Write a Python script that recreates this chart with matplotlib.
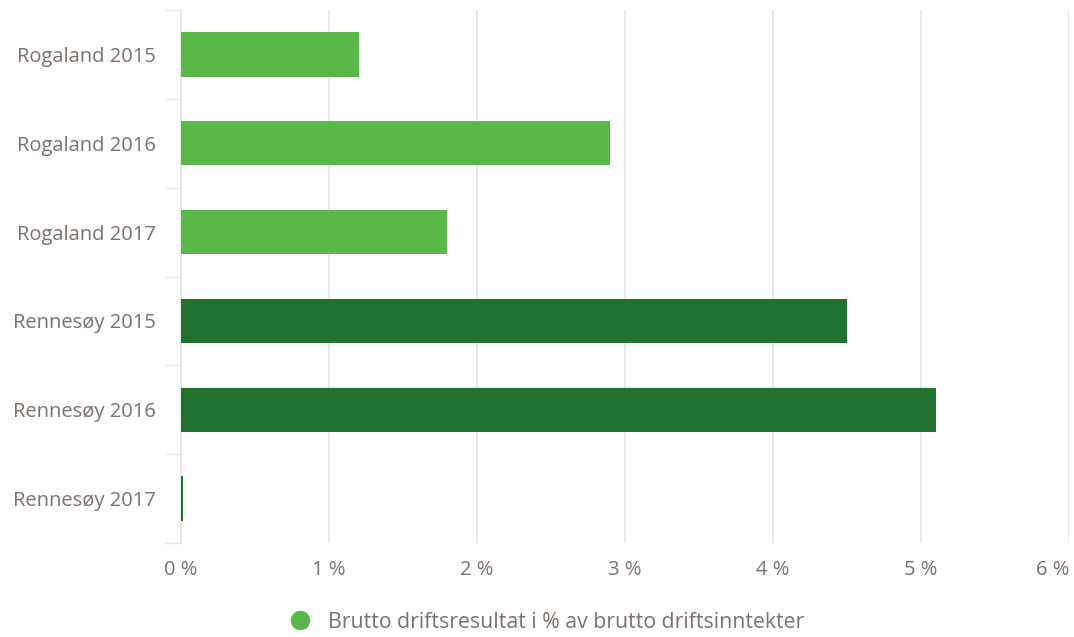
import matplotlib.pyplot as plt
import matplotlib.ticker as ticker
from matplotlib.lines import Line2D
import numpy as np

# ── data ─────────────────────────────────────────────────────────────────────
categories = ["Rogaland 2015", "Rogaland 2016", "Rogaland 2017",
              "Rennesøy 2015", "Rennesøy 2016", "Rennesøy 2017"]
values = [1.2, 2.9, 1.8, 4.5, 5.1, 0.015]
groups = ["Rogaland", "Rogaland", "Rogaland", "Rennesøy", "Rennesøy", "Rennesøy"]
x_ticks = [0, 1, 2, 3, 4, 5, 6]
legend_label = "Brutto driftsresultat i % av brutto driftsinntekter"

GROUP_COLORS = {"Rogaland": "#57b847", "Rennesøy": "#22722f"}
TEXT = "#7b716c"
GRID = "#e6e6e6"
FS = 14.5

plt.rcParams["font.family"] = ["Open Sans", "DejaVu Sans"]

fig = plt.figure(figsize=(10.74, 6.37), dpi=100)
ax = fig.add_axes([181 / 1074, 1 - 543 / 637, 888 / 1074, 533 / 637])

y = np.arange(len(categories))
ax.barh(y, values, height=0.5, color=[GROUP_COLORS[g] for g in groups], zorder=3)

ax.set_xlim(0, 6)
ax.set_ylim(len(categories) - 0.5, -0.5)
ax.set_xticks(x_ticks)
ax.xaxis.set_major_formatter(ticker.FuncFormatter(lambda v, _: f"{v:.0f} %"))
ax.grid(axis="x", color=GRID, linewidth=1.2, zorder=0)

ax.set_yticks(y)
ax.set_yticklabels(categories)
ax.set_yticks(np.arange(len(categories) + 1) - 0.5, minor=True)
ax.tick_params(axis="y", which="major", length=0, pad=18, labelsize=FS, labelcolor=TEXT)
ax.tick_params(axis="y", which="minor", length=11.5, width=1, color=GRID)
ax.tick_params(axis="x", length=0, pad=12, labelsize=FS, labelcolor=TEXT)

# keep the last x label inside the figure, like the original
ax.get_xticklabels()[-1].set_horizontalalignment("right")

for side in ["top", "right", "bottom"]:
    ax.spines[side].set_visible(False)
ax.spines["left"].set_color(GRID)
ax.spines["left"].set_linewidth(1.2)

handle = Line2D([], [], marker="o", linestyle="none", markersize=14,
                markerfacecolor=GROUP_COLORS["Rogaland"], markeredgewidth=0)
fig.legend([handle], [legend_label], loc="center", bbox_to_anchor=(0.504, 1 - 622 / 637),
           frameon=False, fontsize=15.3, labelcolor=TEXT, handletextpad=0.3)

fig.savefig("out.png", dpi=100)
